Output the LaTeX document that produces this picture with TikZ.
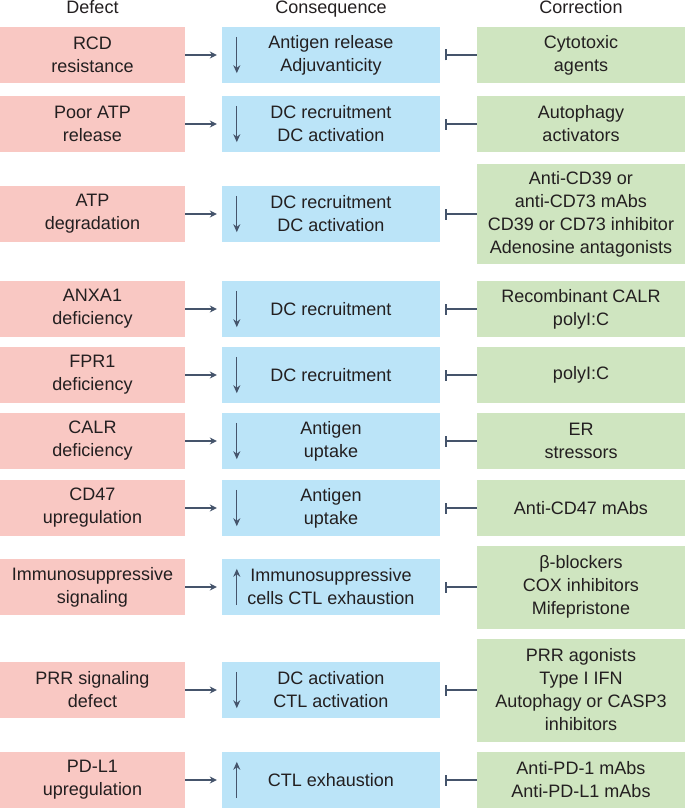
\documentclass[tikz,border=0pt]{standalone}
\usepackage{fontspec}
\setmainfont{Liberation Sans}
\usetikzlibrary{arrows.meta,positioning}
\definecolor{defectpink}{HTML}{F9C8C3}
\definecolor{conseqblue}{HTML}{BBE4F8}
\definecolor{corrgreen}{HTML}{CFE5C0}
\definecolor{linkgray}{HTML}{45546B}
\definecolor{inkgray}{HTML}{231F20}
\begin{document}
\begin{tikzpicture}[x=1pt,y=-1pt,node distance=238.5pt,
  every node/.style={font=\fontsize{18}{23}\selectfont,text=inkgray}]
\tikzstyle{defect}=[fill=defectpink,minimum width=185pt,minimum height=56pt,align=center,inner sep=0pt]
\tikzstyle{conseq}=[fill=conseqblue,minimum width=218pt,minimum height=56pt,align=center,inner sep=0pt]
\tikzstyle{corr}=[fill=corrgreen,minimum width=208pt,minimum height=56pt,align=center,inner sep=0pt,node distance=250pt]
\tikzstyle{leads}=[draw=linkgray,line width=1.4pt,-{Stealth[length=7pt,width=7pt]},shorten >=5pt]
\tikzstyle{blocks}=[draw=linkgray,line width=1.4pt,-{Bar[width=11pt]},shorten >=5pt]
\tikzstyle{trend}=[draw=linkgray,line width=1.3pt,-{Stealth[length=8pt,width=7pt]}]
\useasboundingbox (0,0) rectangle (685,808);
% headings
\node[anchor=base] (hd) at (92.5,14) {Defect};
\node[anchor=base] (hc) at (331,14) {Consequence};
\node[anchor=base] (hr) at (581,14) {Correction};
% rows
\node[defect] (d1) at (92.5,55) {RCD\\resistance};
\node[conseq] (c1) [right of=d1] {Antigen release\\Adjuvanticity};
\node[corr] (r1) [right of=c1] {Cytotoxic\\agents};
\node[defect] (d2) at (92.5,124) {Poor ATP\\release};
\node[conseq] (c2) [right of=d2] {DC recruitment\\DC activation};
\node[corr] (r2) [right of=c2] {Autophagy\\activators};
\node[defect] (d3) at (92.5,214) {ATP\\degradation};
\node[conseq] (c3) [right of=d3] {DC recruitment\\DC activation};
\node[corr,minimum height=100pt] (r3) [right of=c3] {Anti-CD39 or\\anti-CD73 mAbs\\CD39 or CD73 inhibitor\\Adenosine antagonists};
\node[defect] (d4) at (92.5,309) {ANXA1\\deficiency};
\node[conseq] (c4) [right of=d4] {DC recruitment};
\node[corr] (r4) [right of=c4] {Recombinant CALR\\polyI:C};
\node[defect] (d5) at (92.5,375) {FPR1\\deficiency};
\node[conseq] (c5) [right of=d5] {DC recruitment};
\node[corr] (r5) [right of=c5] {polyI:C};
\node[defect] (d6) at (92.5,441) {CALR\\deficiency};
\node[conseq] (c6) [right of=d6] {Antigen\\uptake};
\node[corr] (r6) [right of=c6] {ER\\stressors};
\node[defect] (d7) at (92.5,508) {CD47\\upregulation};
\node[conseq] (c7) [right of=d7] {Antigen\\uptake};
\node[corr] (r7) [right of=c7] {Anti-CD47 mAbs};
\node[defect] (d8) at (92.5,587) {Immunosuppressive\\signaling};
\node[conseq] (c8) [right of=d8] {Immunosuppressive\\cells CTL exhaustion};
\node[corr,minimum height=83pt] (r8) [right of=c8] {β-blockers\\COX inhibitors\\Mifepristone};
\node[defect] (d9) at (92.5,690) {PRR signaling\\defect};
\node[conseq] (c9) [right of=d9] {DC activation\\CTL activation};
\node[corr,minimum height=103pt] (r9) [right of=c9] {PRR agonists\\Type I IFN\\Autophagy or CASP3\\inhibitors};
\node[defect] (d10) at (92.5,780) {PD-L1\\upregulation};
\node[conseq] (c10) [right of=d10] {CTL exhaustion};
\node[corr] (r10) [right of=c10] {Anti-PD-1 mAbs\\Anti-PD-L1 mAbs};
% links
\draw[leads] (d1) -- (c1); \draw[blocks] (r1) -- (c1);
\draw[leads] (d2) -- (c2); \draw[blocks] (r2) -- (c2);
\draw[leads] (d3) -- (c3); \draw[blocks] (r3) -- (c3);
\draw[leads] (d4) -- (c4); \draw[blocks] (r4) -- (c4);
\draw[leads] (d5) -- (c5); \draw[blocks] (r5) -- (c5);
\draw[leads] (d6) -- (c6); \draw[blocks] (r6) -- (c6);
\draw[leads] (d7) -- (c7); \draw[blocks] (r7) -- (c7);
\draw[leads] (d8) -- (c8); \draw[blocks] (r8) -- (c8);
\draw[leads] (d9) -- (c9); \draw[blocks] (r9) -- (c9);
\draw[leads] (d10) -- (c10); \draw[blocks] (r10) -- (c10);
% up and down marks
\draw[trend] ([xshift=15pt,yshift=-10pt]c1.north west) -- ([xshift=15pt,yshift=10pt]c1.south west);
\draw[trend] ([xshift=15pt,yshift=-10pt]c2.north west) -- ([xshift=15pt,yshift=10pt]c2.south west);
\draw[trend] ([xshift=15pt,yshift=-10pt]c3.north west) -- ([xshift=15pt,yshift=10pt]c3.south west);
\draw[trend] ([xshift=15pt,yshift=-10pt]c4.north west) -- ([xshift=15pt,yshift=10pt]c4.south west);
\draw[trend] ([xshift=15pt,yshift=-10pt]c5.north west) -- ([xshift=15pt,yshift=10pt]c5.south west);
\draw[trend] ([xshift=15pt,yshift=-10pt]c6.north west) -- ([xshift=15pt,yshift=10pt]c6.south west);
\draw[trend] ([xshift=15pt,yshift=-10pt]c7.north west) -- ([xshift=15pt,yshift=10pt]c7.south west);
\draw[trend] ([xshift=15pt,yshift=10pt]c8.south west) -- ([xshift=15pt,yshift=-10pt]c8.north west);
\draw[trend] ([xshift=15pt,yshift=-10pt]c9.north west) -- ([xshift=15pt,yshift=10pt]c9.south west);
\draw[trend] ([xshift=15pt,yshift=10pt]c10.south west) -- ([xshift=15pt,yshift=-10pt]c10.north west);
\end{tikzpicture}
\end{document}
